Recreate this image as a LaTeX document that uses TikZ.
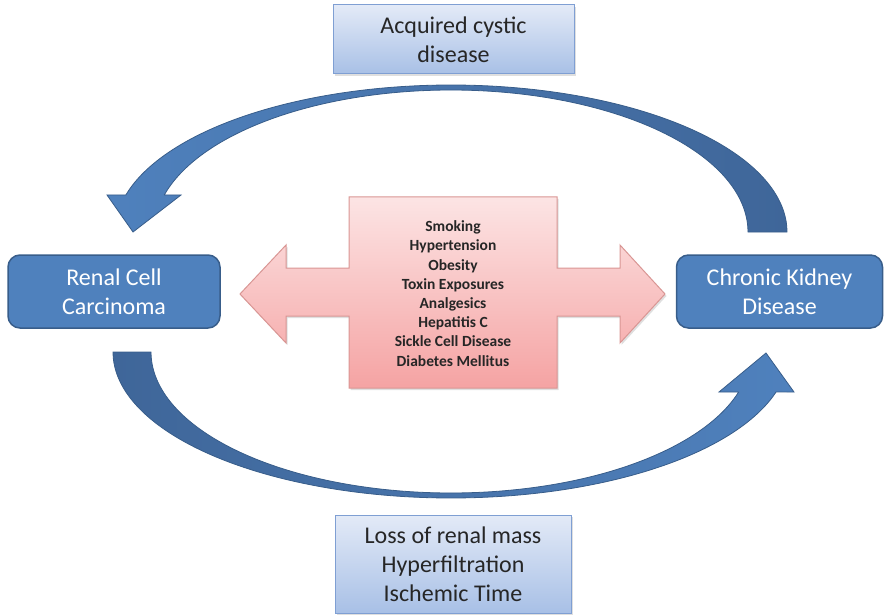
\documentclass[tikz,border=0pt]{standalone}
\usepackage{fontspec}
\setmainfont{Carlito}
\usetikzlibrary{shadows}

\definecolor{boxblue}{HTML}{4F81BD}
\definecolor{boxedge}{HTML}{385D8A}
\definecolor{arcdark}{HTML}{3F6699}
\definecolor{lighttop}{HTML}{E3EAF7}
\definecolor{lightbot}{HTML}{A8C0E6}
\definecolor{lightedge}{HTML}{7F9FD3}
\definecolor{pinktop}{HTML}{FCE4E4}
\definecolor{pinkbot}{HTML}{F5A3A3}
\definecolor{pinkedge}{HTML}{D99694}
\definecolor{darktext}{HTML}{262626}

\tikzset{
  lightbox/.style={draw=lightedge, line width=1pt, top color=lighttop, bottom color=lightbot,
    align=center, text=darktext, font=\fontsize{24}{29}\selectfont, inner sep=0pt,
    drop shadow={shadow xshift=1.5pt, shadow yshift=-2pt, opacity=0.25}},
  darkbox/.style={draw=boxedge, line width=1.5pt, fill=boxblue, rounded corners=12pt,
    align=center, text=white, font=\fontsize{24}{29}\selectfont, inner sep=0pt,
    minimum height=73pt},
  bigarc/.style={draw=boxedge, line width=0.8pt},
  pinkarrow/.style={draw=pinkedge, line width=1pt, top color=pinktop, bottom color=pinkbot,
    drop shadow={shadow xshift=1.5pt, shadow yshift=-2pt, opacity=0.25}},
  listtext/.style={align=center, text=darktext, font=\fontsize{15.5}{19.2}\selectfont\bfseries, inner sep=0pt}
}

\begin{document}
\begin{tikzpicture}[x=1pt, y=-1pt]
\useasboundingbox (0,0) rectangle (884,615);

% curved arrow over the top: tail at the right, head pointing down-left
\path[bigarc, left color=boxblue, right color=arcdark]
  (787,232)
  -- plot[domain=0:165.42, samples=80, smooth] ({451+336*cos(\x)}, {232-147*sin(\x)})
  -- (107,195) -- (133,232) -- (181,195) -- (164.2,195)
  -- plot[domain=0:164.9, samples=80, smooth] ({451+297*cos(164.9-\x)}, {232-142*sin(164.9-\x)})
  -- cycle;

% curved arrow underneath: tail at the left, head pointing up-right
\path[bigarc, left color=arcdark, right color=boxblue]
  (113,352)
  -- plot[domain=180:344.1, samples=80, smooth] ({451+338*cos(\x)}, {352-146*sin(\x)})
  -- (794,392) -- (766,353) -- (719,392) -- (738.7,392)
  -- plot[domain=0:163.52, samples=80, smooth] ({451+300*cos(343.52-\x)}, {352-141*sin(343.52-\x)})
  -- cycle;

% shared risk factors: double-headed block arrow
\path[pinkarrow]
  (240,294) -- (286,245) -- (286,268) -- (349,268) -- (349,197) -- (557,197)
  -- (557,268) -- (620,268) -- (620,245) -- (665,294) -- (620,343) -- (620,316)
  -- (557,316) -- (557,388) -- (349,388) -- (349,316) -- (286,316) -- (286,343) -- cycle;
\node[listtext] (risks) at (453,293.5)
  {Smoking\\Hypertension\\Obesity\\Toxin Exposures\\Analgesics\\Hepatitis C\\Sickle Cell Disease\\Diabetes Mellitus};

% labelled boxes
\node[lightbox, minimum width=241pt, minimum height=69pt] (acquired) at (453.5,39.5) {Acquired cystic\\disease};
\node[lightbox, minimum width=236pt, minimum height=98pt] (loss) at (453,564) {Loss of renal mass\\Hyperfiltration\\Ischemic Time};
\node[darkbox, minimum width=212pt] (rcc) at (114,291.5) {Renal Cell\\Carcinoma};
\node[darkbox, minimum width=206pt] (ckd) at (779.5,291.5) {Chronic Kidney\\Disease};
\end{tikzpicture}
\end{document}
